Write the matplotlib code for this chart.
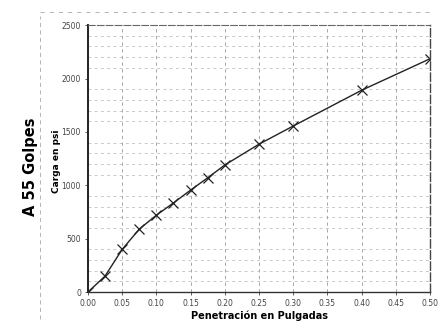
import matplotlib
matplotlib.use("Agg")
import matplotlib.pyplot as plt
from matplotlib.lines import Line2D

# penetration (in) vs load (psi)
penetracion = [0.0, 0.025, 0.05, 0.075, 0.10, 0.125, 0.15, 0.175, 0.20, 0.25, 0.30, 0.40, 0.50]
carga = [0, 150, 400, 590, 720, 835, 955, 1070, 1190, 1385, 1555, 1890, 2185]

x_ticks = [0.0, 0.05, 0.10, 0.15, 0.20, 0.25, 0.30, 0.35, 0.40, 0.45, 0.50]
y_ticks = [0, 500, 1000, 1500, 2000, 2500]

fig = plt.figure(figsize=(4.42, 3.26), dpi=100)
ax = fig.add_axes([0.199, 0.104, 0.774, 0.819])

ax.plot(penetracion, carga, color="#222222", lw=1.0, marker="x", ms=6.5, mew=0.9)

ax.set_xlim(0, 0.5)
ax.set_ylim(0, 2500)
ax.set_xticks(x_ticks)
ax.set_xticklabels([f"{v:.2f}" for v in x_ticks])
ax.set_yticks(y_ticks)
ax.set_yticks(range(0, 2501, 100), minor=True)
ax.tick_params(axis="both", labelsize=5.5, length=2, width=0.6, colors="#444444", pad=3)
ax.tick_params(which="minor", length=0)

ax.grid(True, which="major", axis="x", color="#999999", ls=(0, (4, 4)), lw=0.6)
ax.grid(True, which="minor", axis="y", color="#b0b0b0", ls=(0, (4, 5)), lw=0.5)

ax.spines["left"].set_linewidth(1.4)
ax.spines["left"].set_color("#222222")
ax.spines["bottom"].set_linewidth(1.0)
ax.spines["bottom"].set_color("#333333")
ax.spines["top"].set_linestyle((0, (6, 2)))
ax.spines["top"].set_color("#666666")
ax.spines["top"].set_linewidth(0.8)
ax.spines["right"].set_linestyle((0, (6, 2)))
ax.spines["right"].set_color("#444444")
ax.spines["right"].set_linewidth(1.0)

ax.set_xlabel("Penetración en Pulgadas", fontsize=7, fontweight="bold", labelpad=2)
fig.text(0.127, 0.505, "Carga en psi", rotation=90, fontsize=6.5, fontweight="bold",
         ha="center", va="center")
fig.text(0.068, 0.49, "A 55 Golpes", rotation=90, fontsize=10.5, fontweight="bold",
         ha="center", va="center")

# dashed frame left over from the scanned sheet
fig.add_artist(Line2D([0.09, 0.09], [0.02, 0.95], transform=fig.transFigure,
                      color="#aaaaaa", lw=0.6, ls=(0, (5, 4))))
fig.add_artist(Line2D([0.09, 0.98], [0.963, 0.963], transform=fig.transFigure,
                      color="#aaaaaa", lw=0.6, ls=(0, (5, 6))))

fig.savefig("out.png", dpi=100)
